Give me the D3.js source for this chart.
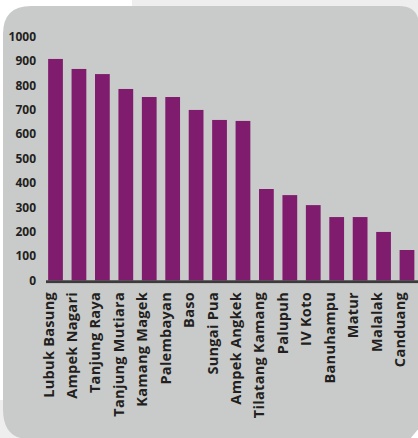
<!DOCTYPE html>
<html><head><meta charset="utf-8">
<script src="https://cdn.jsdelivr.net/npm/d3@7"></script>
<style>html,body{margin:0;padding:0;background:#fff;}svg{display:block;}</style>
</head><body>
<script>
const categories = ["Lubuk Basung","Ampek Nagari","Tanjung Raya","Tanjung Mutiara","Kamang Magek","Palembayan","Baso","Sungai Pua","Ampek Angkek","Tilatang Kamang","Palupuh","IV Koto","Banuhampu","Matur","Malalak","Canduang"];
const values = [908, 867, 846, 785, 752, 752, 699, 658, 654, 375, 350, 309, 260, 260, 199, 125];
const yTicks = [0,100,200,300,400,500,600,700,800,900,1000];

const W = 418, H = 438;
const svg = d3.select("body").append("svg").attr("width", W).attr("height", H);

// background pieces
svg.append("rect").attr("x",132).attr("y",0).attr("width",W-132).attr("height",20).attr("fill","#eeeeee");
svg.append("rect").attr("x",0).attr("y",400).attr("width",40).attr("height",38).attr("fill","#eeeeee");

// panel with rounded corners
const px=3, py=6, pr=W+1, pb=H+1;
const p = d3.path();
p.moveTo(px+28, py);
p.lineTo(pr-20, py);
p.quadraticCurveTo(pr, py, pr, py+20);
p.lineTo(pr, 428);
p.lineTo(410, pb);
p.lineTo(px+26, pb);
p.quadraticCurveTo(px, pb, px, pb-30);
p.lineTo(px, py+28);
p.quadraticCurveTo(px, py, px+28, py);
p.closePath();
svg.append("path").attr("d", p.toString()).attr("fill","#c9cbca");

const y = d3.scaleLinear().domain([0,1000]).range([280.5, 36.5]);
const x = d3.scaleBand().domain(categories).range([43.8, 418.7]).paddingInner(0.37).paddingOuter(0.185);

svg.append("g").selectAll("rect").data(values).join("rect")
  .attr("x",(d,i)=>x(categories[i]))
  .attr("width",x.bandwidth())
  .attr("y",d=>y(d))
  .attr("height",d=>y(0)-y(d))
  .attr("fill","#801c6e");

// y axis
const yAxis = d3.axisLeft(y).tickValues(yTicks).tickSize(0).tickPadding(0).tickFormat(d3.format("d"));
const gy = svg.append("g").attr("transform","translate(36,0)").call(yAxis);
gy.select(".domain").remove();
gy.selectAll("text").attr("font-family","'Open Sans', sans-serif").attr("font-weight","bold")
  .attr("font-size","12px").attr("fill","#231f20");

// x axis line
svg.append("rect").attr("x",46).attr("y",280.3).attr("width",W-46).attr("height",2.8).attr("fill","#3c3a3b");

// x labels
const xAxis = d3.axisBottom(x).tickSize(0).tickPadding(0);
const gx = svg.append("g").attr("transform","translate(0,292)").call(xAxis);
gx.select(".domain").remove();
gx.selectAll(".tick").attr("transform", d => `translate(${x(d)+x.bandwidth()/2},0)`);
gx.selectAll(".tick text")
  .attr("font-family","'Open Sans', sans-serif").attr("font-weight","bold")
  .attr("font-size","14.5px").attr("letter-spacing","0.3px").attr("fill","#231f20")
  .attr("text-anchor","end").attr("dy","0")
  .attr("x",0).attr("y",-2)
  .attr("transform","rotate(-90)");
</script>
</body></html>
